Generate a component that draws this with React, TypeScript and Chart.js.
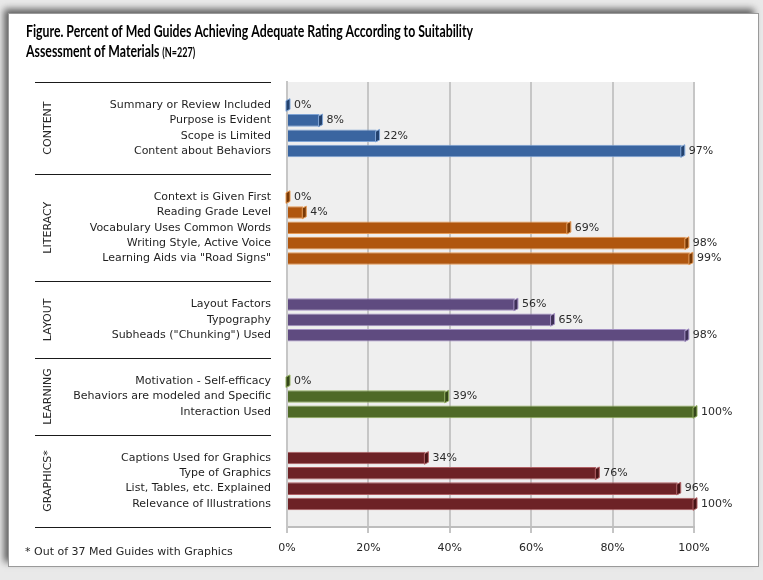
import React, { useEffect, useRef } from 'react';
import { Chart, registerables } from 'chart.js';

Chart.register(...registerables);

const TITLE_LINE1 = 'Figure. Percent of Med Guides Achieving Adequate Rating According to Suitability';
const TITLE_LINE2 = 'Assessment of Materials';
const TITLE_N = '(N=227)';
const FOOTNOTE = '* Out of 37 Med Guides with Graphics';

const groupNames = ['CONTENT', 'LITERACY', 'LAYOUT', 'LEARNING', 'GRAPHICS*'];

const contentLabels = ['Summary or Review Included', 'Purpose is Evident', 'Scope is Limited', 'Content about Behaviors'];
const contentValues = [0, 8, 22, 97];

const literacyLabels = ['Context is Given First', 'Reading Grade Level', 'Vocabulary Uses Common Words', 'Writing Style, Active Voice', 'Learning Aids via "Road Signs"'];
const literacyValues = [0, 4, 69, 98, 99];

const layoutLabels = ['Layout Factors', 'Typography', 'Subheads ("Chunking") Used'];
const layoutValues = [56, 65, 98];

const learningLabels = ['Motivation - Self-efficacy', 'Behaviors are modeled and Specific', 'Interaction Used'];
const learningValues = [0, 39, 100];

const graphicsLabels = ['Captions Used for Graphics', 'Type of Graphics', 'List, Tables, etc. Explained', 'Relevance of Illustrations'];
const graphicsValues = [34, 76, 96, 100];

const xTickValues = [0, 20, 40, 60, 80, 100];

const groupFill = ['#3a65a0', '#b0560e', '#5f4b80', '#4f6a27', '#6d2226'];
const groupEdge = ['#7ea3d4', '#e69a55', '#a28fc2', '#93b060', '#b06064'];
const groupCap = ['#23426e', '#7a3a06', '#3e3057', '#34471a', '#481416'];

const groupLabelLists = [contentLabels, literacyLabels, layoutLabels, learningLabels, graphicsLabels];
const groupValueLists = [contentValues, literacyValues, layoutValues, learningValues, graphicsValues];

const FONT = '"DejaVu Sans", "Noto Sans", sans-serif';
const TITLE_FONT = 'Lato, "Liberation Sans", sans-serif';

export default function App() {
  const canvasRef = useRef<HTMLCanvasElement | null>(null);

  useEffect(() => {
    const slotLabels: string[] = [];
    const slotValues: (number | null)[] = [];
    const slotFill: string[] = [];
    const slotEdge: string[] = [];
    const slotCap: string[] = [];
    const ranges: { name: string; start: number; end: number }[] = [];

    const pushBlank = () => {
      slotLabels.push('');
      slotValues.push(null);
      slotFill.push('rgba(0,0,0,0)');
      slotEdge.push('rgba(0,0,0,0)');
      slotCap.push('rgba(0,0,0,0)');
    };

    pushBlank();
    groupNames.forEach((name, g) => {
      if (g > 0) {
        pushBlank();
        pushBlank();
      }
      const start = slotLabels.length;
      groupLabelLists[g].forEach((lab, i) => {
        slotLabels.push(lab);
        slotValues.push(groupValueLists[g][i]);
        slotFill.push(groupFill[g]);
        slotEdge.push(groupEdge[g]);
        slotCap.push(groupCap[g]);
      });
      ranges.push({ name, start, end: slotLabels.length - 1 });
    });
    pushBlank();

    const decor = {
      id: 'decor',
      beforeDraw(chart: any) {
        const ctx = chart.ctx;
        const W = chart.width;
        const H = chart.height;
        ctx.save();
        ctx.fillStyle = '#e9e9e9';
        ctx.fillRect(0, 0, W, H);
        ctx.shadowColor = 'rgba(0,0,0,0.6)';
        ctx.shadowBlur = 7;
        ctx.shadowOffsetX = -4;
        ctx.shadowOffsetY = -4;
        ctx.fillStyle = '#ffffff';
        ctx.fillRect(8, 13, 750, 553);
        ctx.restore();
        ctx.save();
        ctx.strokeStyle = '#9a9a9a';
        ctx.lineWidth = 1;
        ctx.strokeRect(8.5, 13.5, 750, 553);
        const a = chart.chartArea;
        ctx.fillStyle = '#efefef';
        ctx.fillRect(a.left, a.top, a.right - a.left, a.bottom - a.top);
        ctx.restore();
      },
      afterDatasetsDraw(chart: any) {
        const ctx = chart.ctx;
        const meta = chart.getDatasetMeta(0);
        ctx.save();
        meta.data.forEach((bar: any, i: number) => {
          const v = slotValues[i];
          if (v === null || v === undefined) return;
          const h = bar.height;
          const top = bar.y - h / 2;
          // end cap
          ctx.fillStyle = slotCap[i];
          ctx.beginPath();
          ctx.moveTo(bar.x - 1, top + 2);
          ctx.lineTo(bar.x + 3, top);
          ctx.lineTo(bar.x + 3, top + h - 2);
          ctx.lineTo(bar.x - 1, top + h);
          ctx.closePath();
          ctx.fill();
          ctx.strokeStyle = slotEdge[i];
          ctx.lineWidth = 1;
          ctx.stroke();
          // value label
          ctx.fillStyle = '#2b2b2b';
          ctx.font = '11px ' + FONT;
          ctx.textAlign = 'left';
          ctx.textBaseline = 'middle';
          ctx.fillText(v + '%', bar.x + 7, bar.y);
        });
        ctx.restore();
      },
      afterDraw(chart: any) {
        const ctx = chart.ctx;
        const y = chart.scales.y;
        const a = chart.chartArea;
        ctx.save();

        // title
        ctx.fillStyle = '#000000';
        ctx.textAlign = 'left';
        ctx.textBaseline = 'alphabetic';
        ctx.font = 'bold 17px ' + TITLE_FONT;
        const w1 = ctx.measureText(TITLE_LINE1).width;
        const sx = Math.min(1, 447 / w1);
        ctx.save();
        ctx.translate(26, 37);
        ctx.scale(sx, 1);
        ctx.fillText(TITLE_LINE1, 0, 0);
        ctx.fillText(TITLE_LINE2, 0, 20);
        const w2 = ctx.measureText(TITLE_LINE2).width;
        ctx.font = 'bold 12.5px ' + TITLE_FONT;
        ctx.fillText(TITLE_N, w2 + 3 / sx, 20);
        ctx.restore();

        // separators
        const seps: number[] = [a.top];
        for (let g = 1; g < ranges.length; g++) {
          seps.push(y.getPixelForValue((ranges[g - 1].end + ranges[g].start) / 2));
        }
        seps.push(a.bottom);
        ctx.strokeStyle = '#1a1a1a';
        ctx.lineWidth = 1.2;
        seps.forEach((py) => {
          ctx.beginPath();
          ctx.moveTo(35, Math.round(py) + 0.5);
          ctx.lineTo(271, Math.round(py) + 0.5);
          ctx.stroke();
        });

        // group labels
        ctx.fillStyle = '#262626';
        ctx.font = '11px ' + FONT;
        ctx.textAlign = 'center';
        ctx.textBaseline = 'middle';
        ranges.forEach((r) => {
          const cy = (y.getPixelForValue(r.start) + y.getPixelForValue(r.end)) / 2;
          ctx.save();
          ctx.translate(48, cy);
          ctx.rotate(-Math.PI / 2);
          ctx.fillText(r.name, 0, 0);
          ctx.restore();
        });

        // footnote
        ctx.textAlign = 'left';
        ctx.fillText(FOOTNOTE, 25, 552);
        ctx.restore();
      },
    };

    const chart = new Chart(canvasRef.current as HTMLCanvasElement, {
      type: 'bar',
      data: {
        labels: slotLabels,
        datasets: [
          {
            data: slotValues,
            backgroundColor: slotFill,
            borderColor: slotEdge,
            borderWidth: 1,
            borderSkipped: 'left',
            barPercentage: 0.82,
            categoryPercentage: 1,
          } as any,
        ],
      },
      options: {
        indexAxis: 'y',
        animation: false,
        responsive: true,
        maintainAspectRatio: false,
        layout: { padding: { left: 0, right: 69, top: 82, bottom: 23 } },
        plugins: {
          legend: { display: false },
          title: { display: false },
          tooltip: { enabled: false },
        },
        scales: {
          x: {
            type: 'linear',
            min: xTickValues[0],
            max: xTickValues[xTickValues.length - 1],
            afterBuildTicks: (scale: any) => {
              scale.ticks = xTickValues.map((v) => ({ value: v }));
            },
            afterFit: (scale: any) => {
              scale.height = 30;
            },
            ticks: {
              callback: (v: any) => v + '%',
              color: '#262626',
              font: { family: FONT, size: 11 },
              padding: 9,
            },
            grid: {
              color: '#c6c6c6',
              lineWidth: 2,
              tickLength: 6,
              tickColor: '#8a8a8a',
              tickWidth: 1,
            },
            border: { display: true, color: '#bdbdbd', width: 2 },
          },
          y: {
            type: 'category',
            afterFit: (scale: any) => {
              scale.width = 287;
            },
            ticks: {
              autoSkip: false,
              color: '#1f1f1f',
              font: { family: FONT, size: 11 },
              padding: 16,
            },
            grid: { display: false, drawTicks: false },
            border: { display: true, color: '#c6c6c6', width: 2 },
          },
        },
      },
      plugins: [decor],
    });

    return () => chart.destroy();
  }, []);

  return (
    <div style={{ position: 'fixed', left: 0, top: 0, width: 763, height: 580 }}>
      <canvas ref={canvasRef} />
    </div>
  );
}
